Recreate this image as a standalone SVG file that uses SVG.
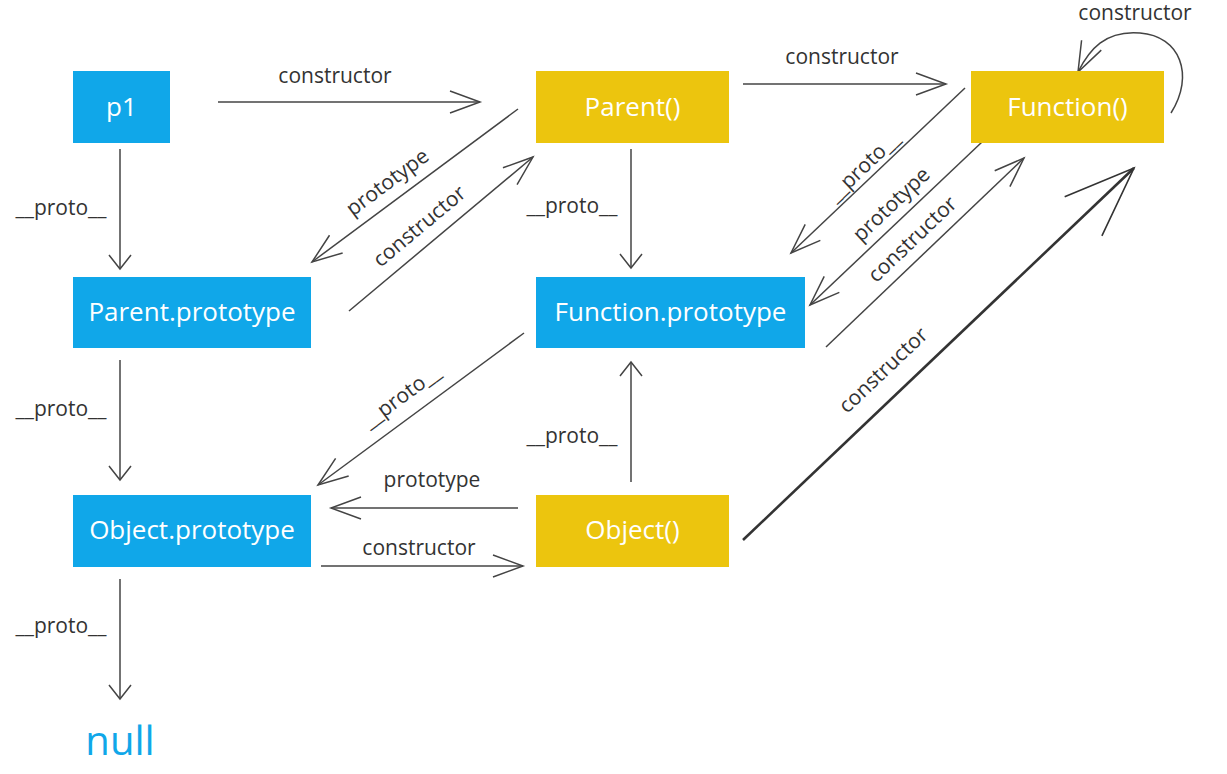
<svg xmlns="http://www.w3.org/2000/svg" width="1227" height="774" viewBox="0 0 1227 774">
<style>
.blue{fill:#10a7e9}
.yel{fill:#ecc50e}
.nt{font-family:"Open Sans","Noto Sans",sans-serif;font-size:26px;fill:#ffffff;text-anchor:middle}
.lb{font-family:"Open Sans","Noto Sans",sans-serif;font-size:21px;fill:#333333;text-anchor:middle}
.c{fill:none;stroke:#444444;stroke-width:1.5}
.thick{fill:none;stroke:#333333;stroke-width:2.6}
</style>
<defs>
<marker id="h" markerUnits="userSpaceOnUse" viewBox="-35 -20 40 40" markerWidth="40" markerHeight="40" refX="0" refY="0" orient="auto" overflow="visible">
<path d="M-30,-11 L0,0 L-30,11" fill="none" stroke="#444444" stroke-width="1.5"/>
</marker>
<marker id="v" markerUnits="userSpaceOnUse" viewBox="-20 -20 25 40" markerWidth="25" markerHeight="40" refX="0" refY="0" orient="auto" overflow="visible">
<path d="M-14,-11 L0,0 L-14,11" fill="none" stroke="#444444" stroke-width="1.5"/>
</marker>
<marker id="b" markerUnits="userSpaceOnUse" viewBox="-80 -35 85 70" markerWidth="85" markerHeight="70" refX="0" refY="0" orient="auto" overflow="visible">
<path d="M-70,-27 L0,0 L-70,27" fill="none" stroke="#333333" stroke-width="1.6"/>
</marker>
</defs>
<rect width="1227" height="774" fill="#ffffff"/>
<g id="connectors">
<path class="c" d="M218,102 H480" marker-end="url(#h)"/>
<path class="c" d="M120,149 V269" marker-end="url(#v)"/>
<path class="c" d="M518,109 L312,262" marker-end="url(#h)"/>
<path class="c" d="M349,311 L533,157" marker-end="url(#h)"/>
<path class="c" d="M743,84 H946" marker-end="url(#h)"/>
<path class="c" d="M631,149 V268" marker-end="url(#v)"/>
<path class="c" d="M965,88 L791,253" marker-end="url(#h)"/>
<path class="c" d="M982,142 L810,305" marker-end="url(#h)"/>
<path class="c" d="M826,347 L1024,158" marker-end="url(#h)"/>
<path class="thick" d="M743,540 L1134,168" marker-end="url(#b)"/>
<path class="c" d="M1171,113 C1195,75 1180,36 1140,33 C1105,30 1089,50 1078,72" marker-end="url(#h)"/>
<path class="c" d="M524,333 L318,485" marker-end="url(#h)"/>
<path class="c" d="M518,508 H331" marker-end="url(#h)"/>
<path class="c" d="M321,566 H523" marker-end="url(#h)"/>
<path class="c" d="M631,482 V362" marker-end="url(#v)"/>
<path class="c" d="M120,579 V699" marker-end="url(#v)"/>
<path class="c" d="M120,360 V480" marker-end="url(#v)"/>
<text class="lb" x="335" y="83">constructor</text>
<text class="lb" x="61" y="215">__proto__</text>
<text class="lb" transform="translate(388,183) rotate(-36.6)" y="6">prototype</text>
<text class="lb" transform="translate(420,227) rotate(-39.9)" y="6">constructor</text>
<text class="lb" x="842" y="64">constructor</text>
<text class="lb" x="1135" y="20">constructor</text>
<text class="lb" x="572" y="213">__proto__</text>
<text class="lb" transform="translate(864,167) rotate(-43.5)" y="6">__proto__</text>
<text class="lb" transform="translate(892,205) rotate(-43.5)" y="6">prototype</text>
<text class="lb" transform="translate(913,240) rotate(-43.7)" y="6">constructor</text>
<text class="lb" transform="translate(884,371) rotate(-43.5)" y="6">constructor</text>
<text class="lb" transform="translate(402,397) rotate(-36.4)" y="6">__proto__</text>
<text class="lb" x="61" y="416">__proto__</text>
<text class="lb" x="572" y="443">__proto__</text>
<text class="lb" x="432" y="487">prototype</text>
<text class="lb" x="419" y="555">constructor</text>
<text class="lb" x="61" y="633">__proto__</text>
</g>
<g id="p1">
<rect class="blue" x="73" y="71" width="97" height="72"/>
<text class="nt" x="121.5" y="116">p1</text>
</g>
<g id="parent">
<rect class="yel" x="536" y="71" width="193" height="72"/>
<text class="nt" x="632.5" y="116">Parent()</text>
</g>
<g id="function">
<rect class="yel" x="971" y="71" width="193" height="72"/>
<text class="nt" x="1067.5" y="116">Function()</text>
</g>
<g id="parent-prototype">
<rect class="blue" x="73" y="277" width="238" height="71"/>
<text class="nt" x="192" y="321">Parent.prototype</text>
</g>
<g id="function-prototype">
<rect class="blue" x="536" y="277" width="269" height="71"/>
<text class="nt" x="670.5" y="321">Function.prototype</text>
</g>
<g id="object-prototype">
<rect class="blue" x="73" y="495" width="238" height="72"/>
<text class="nt" x="192" y="539">Object.prototype</text>
</g>
<g id="object">
<rect class="yel" x="536" y="495" width="193" height="72"/>
<text class="nt" x="632.5" y="539">Object()</text>
</g>
<g id="null">
<text x="120" y="755" font-family="'Open Sans','Noto Sans',sans-serif" font-size="40" fill="#10a7e9" text-anchor="middle">null</text>
</g>
</svg>
